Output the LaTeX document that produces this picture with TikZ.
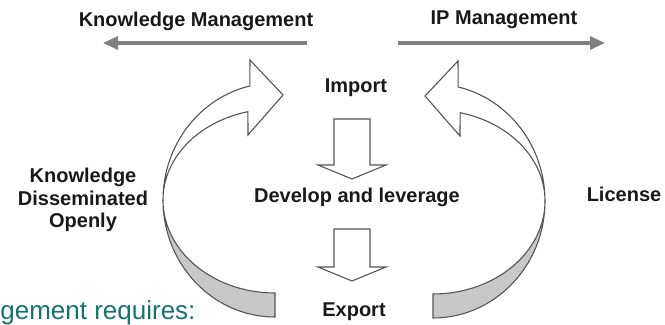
\documentclass[tikz,border=0pt]{standalone}
\usepackage{fontspec}
\setmainfont{Liberation Sans}
\usetikzlibrary{arrows.meta}
\definecolor{inkgray}{RGB}{85,85,85}
\definecolor{bandgray}{RGB}{200,200,200}
\definecolor{flowgray}{RGB}{128,128,128}
\definecolor{reqteal}{RGB}{20,115,110}
\definecolor{labelblack}{RGB}{25,25,25}

\begin{document}
\begin{tikzpicture}[x=0.5pt,y=-0.5pt,
  lbl/.style={font=\fontsize{10}{11.25}\selectfont\bfseries,text=labelblack,inner sep=0pt},
  flow/.style={line width=1.6pt,draw=flowgray,-{Triangle[length=7.5pt,width=6.5pt]}},
  outline/.style={draw=inkgray,line width=0.55pt},
  twist/.pic={
    \filldraw[outline,fill=bandgray] (0,117) arc[start angle=90,end angle=180,x radius=112,y radius=117]
      arc[start angle=180,end angle=90,x radius=112,y radius=93] -- cycle;
    \filldraw[outline,fill=white] (-112,0) arc[start angle=180,end angle=257,x radius=112,y radius=117]
      -- (-25,-140) -- (8,-105) -- (-27,-65) -- (-27.1,-88.3)
      arc[start angle=256,end angle=180,x radius=112,y radius=91] -- cycle;
  },
  drop/.pic={
    \filldraw[outline,fill=white] (-18,-#1) -- (18,-#1) -- (18,-14) -- (34,-14) -- (0,0)
      -- (-34,-14) -- (-18,-14) -- cycle;
  }]
\clip (0,0) rectangle (665,325);

\node[lbl,anchor=base] (km) at (196,27) {Knowledge Management};
\node[lbl,anchor=base] (ipm) at (504,25) {IP Management};
\coordinate (kmfrom) at (307,43);
\coordinate (kmto) at (103,43);
\coordinate (ipmfrom) at (398,43);
\coordinate (ipmto) at (605,43);
\draw[flow] (kmfrom) -- (kmto);
\draw[flow] (ipmfrom) -- (ipmto);

\pic at (275,200) {twist};
\pic[xscale=-1] at (433,201) {twist};

\node[lbl,anchor=base] (imp) at (356,93) {Import};
\node[lbl,anchor=base] (dev) at (357,203) {Develop and leverage};
\node[lbl,anchor=base] (exp) at (354,317) {Export};
\pic at (352,179) {drop=60};
\pic at (352,281) {drop=52};

\node[lbl,align=center] (kdo) at (83,200) {Knowledge\\Disseminated\\Openly};
\node[lbl,anchor=base] (lic) at (624,202) {License};

\node[font=\fontsize{13}{15}\selectfont,text=reqteal,inner sep=0pt,anchor=base west] (req) at (0,320) {gement requires:};
\end{tikzpicture}
\end{document}
